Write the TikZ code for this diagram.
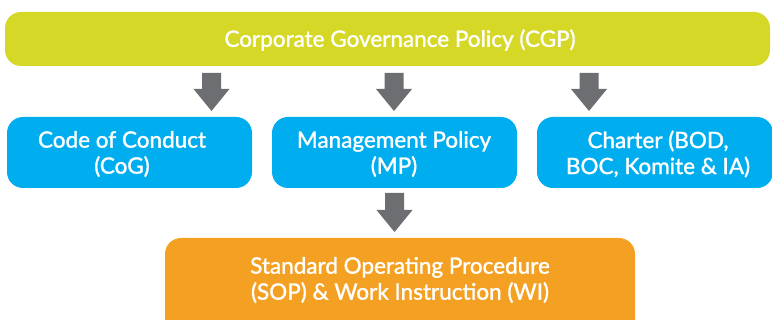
\documentclass[tikz,border=0pt]{standalone}
\usepackage{fontspec}
\setmainfont{Lato}[FakeBold=1.4]
\definecolor{cgpcol}{HTML}{D6D827}
\definecolor{bluecol}{HTML}{00AEEF}
\definecolor{orgcol}{HTML}{F4A123}
\definecolor{arrcol}{HTML}{6D6E71}
\newcommand\mydownarrow[4]{%
  \fill[arrcol] (#1-9.5,#2) -- (#1+9.5,#2) -- (#1+9.5,#3) -- (#1+18,#3) -- (#1,#4)
    -- (#1-18,#3) -- (#1-9.5,#3) -- cycle;}
\begin{document}
\begin{tikzpicture}[x=1pt,y=-1pt,
  boxbase/.style={rounded corners=16pt, inner sep=0pt},
  lbl/.style={text=white, align=center, font=\fontsize{22.5}{26}\selectfont}]
\useasboundingbox (0,0) rectangle (772,320);
\clip (0,0) rectangle (772,320);
% boxes
\node[boxbase, fill=cgpcol, minimum width=765pt, minimum height=54pt] (cgp) at (387.5,39) {};
\node[boxbase, fill=bluecol, minimum width=245pt, minimum height=71pt] (cog) at (129.5,152.5) {};
\node[boxbase, fill=bluecol, minimum width=245pt, minimum height=71pt] (mp) at (394.5,152.5) {};
\node[boxbase, fill=bluecol, minimum width=236pt, minimum height=71pt] (ch) at (655,152.5) {};
\node[boxbase, fill=orgcol, minimum width=470pt, minimum height=100pt] (sop) at (400,288) {};
% labels
\node[lbl] (tcgp) at (400,40) {Corporate Governance Policy (CGP)};
\node[lbl] (tcog) at (122,154) {Code of Conduct\\(CoG)};
\node[lbl] (tmp) at (394,154) {Management Policy\\(MP)};
\node[lbl] (tch) at (658,154) {Charter (BOD,\\BOC, Komite \& IA)};
\node[lbl] (tsop) at (400,280) {Standard Operating Procedure\\(SOP) \& Work Instruction (WI)};
% arrows
\mydownarrow{211.5}{73}{89}{111}
\mydownarrow{394}{73}{89}{111}
\mydownarrow{589}{73}{89}{111}
\mydownarrow{394.5}{193}{210}{232}
\end{tikzpicture}
\end{document}
